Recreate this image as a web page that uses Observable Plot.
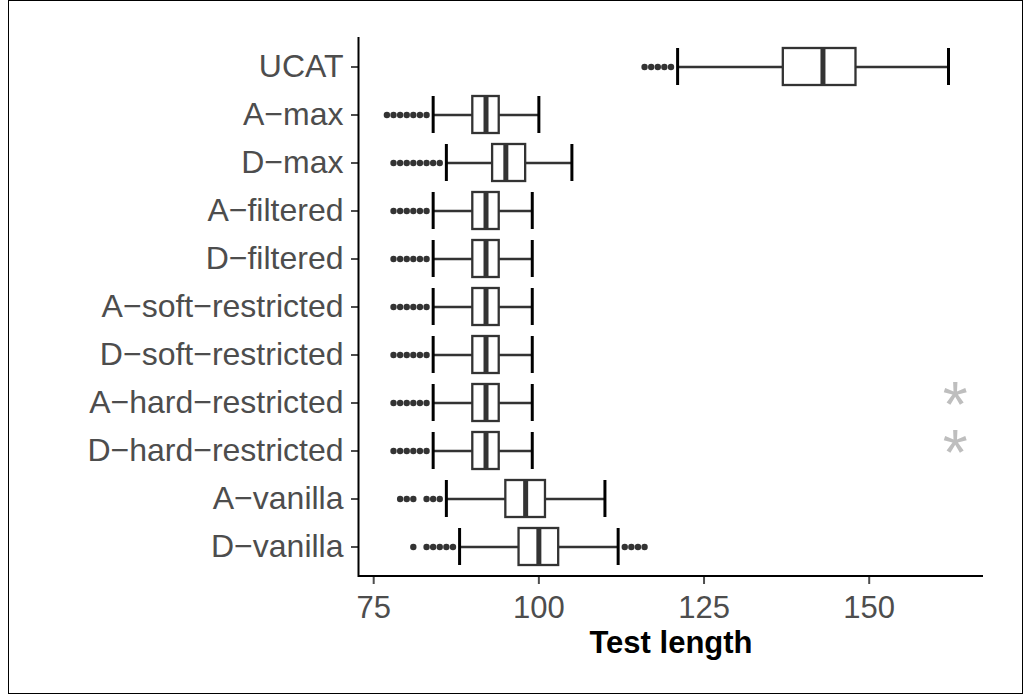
<!DOCTYPE html>
<html>
<head>
<meta charset="utf-8">
<script src="https://cdn.jsdelivr.net/npm/d3@7"></script>
<script src="https://cdn.jsdelivr.net/npm/@observablehq/plot@0.6"></script>
<style>
  html, body { margin: 0; padding: 0; background: #fff; }
  #wrap { position: relative; width: 1023px; height: 694px; }
  #border { position: absolute; left: 8px; top: 0px; width: 1013px; height: 692px; border: 1px solid #000; pointer-events: none; }
</style>
</head>
<body>
<div id="wrap"><div id="chart"></div><div id="border"></div></div>
<script>
// ---- data ----
const categories = ["UCAT", "A\u2212max", "D\u2212max", "A\u2212filtered", "D\u2212filtered",
  "A\u2212soft\u2212restricted", "D\u2212soft\u2212restricted", "A\u2212hard\u2212restricted",
  "D\u2212hard\u2212restricted", "A\u2212vanilla", "D\u2212vanilla"];
const whiskerLow  = [121, 84, 86, 84, 84, 84, 84, 84, 84, 86, 88];
const quartile1   = [137, 90, 93, 90, 90, 90, 90, 90, 90, 95, 97];
const medians     = [143, 92, 95, 92, 92, 92, 92, 92, 92, 98, 100];
const quartile3   = [148, 94, 98, 94, 94, 94, 94, 94, 94, 101, 103];
const whiskerHigh = [162, 100, 105, 99, 99, 99, 99, 99, 99, 110, 112];
const outliers = [
  [116, 117, 118, 119, 120],
  [77, 78, 79, 80, 81, 82, 83],
  [78, 79, 80, 81, 82, 83, 84, 85],
  [78, 79, 80, 81, 82, 83],
  [78, 79, 80, 81, 82, 83],
  [78, 79, 80, 81, 82, 83],
  [78, 79, 80, 81, 82, 83],
  [78, 79, 80, 81, 82, 83],
  [78, 79, 80, 81, 82, 83],
  [79, 80, 81, 83, 84, 85],
  [81, 83, 84, 85, 86, 87, 113, 114, 115, 116]
];
const markedCategories = ["A\u2212hard\u2212restricted", "D\u2212hard\u2212restricted"];
const markValue = 163;
const markSymbol = "*";
const xTicks = [75, 100, 125, 150];
const xLabel = "Test length";
const xDomain = [72.7, 167.3];

// ---- build tables ----
const boxes = categories.map((c, i) => ({
  cat: c, lo: whiskerLow[i], q1: quartile1[i], med: medians[i], q3: quartile3[i], hi: whiskerHigh[i]
}));
const outlierPts = categories.flatMap((c, i) => outliers[i].map(v => ({cat: c, v})));
const marks = markedCategories.map(c => ({cat: c, v: markValue, s: markSymbol}));

const W = 1023, H = 694, mL = 358, mR = 40, mT = 37, mB = 117;
const step = (H - mT - mB) / (categories.length + 0.2);
const font = "'Liberation Sans', Arial, Helvetica, sans-serif";

const chart = Plot.plot({
  width: W, height: H,
  marginLeft: mL, marginRight: mR, marginTop: mT, marginBottom: mB,
  style: {fontFamily: font, fontSize: "31px", background: "#fff"},
  x: {domain: xDomain, axis: null},
  y: {type: "band", domain: categories, paddingInner: 0.22, paddingOuter: 0.2, align: 0.5, axis: null},
  marks: [
    Plot.axisY({tickSize: 7, tickPadding: 8, strokeWidth: 2, color: "#4d4d4d", fontSize: 32, label: null}),
    Plot.axisX({ticks: xTicks, tickSize: 7, tickPadding: 11, strokeWidth: 2, color: "#4d4d4d", fontSize: 31, label: null}),
    Plot.ruleX([xDomain[0]], {stroke: "#000", strokeWidth: 2}),
    Plot.ruleY([categories[categories.length - 1]], {stroke: "#000", strokeWidth: 2, dy: 0.6 * step}),
    Plot.ruleY(boxes, {y: "cat", x1: "lo", x2: "hi", stroke: "#333", strokeWidth: 2.3}),
    Plot.tickX(boxes, {y: "cat", x: "lo", stroke: "#000", strokeWidth: 3}),
    Plot.tickX(boxes, {y: "cat", x: "hi", stroke: "#000", strokeWidth: 3}),
    Plot.dot(outlierPts, {y: "cat", x: "v", r: 3.2, fill: "#333", stroke: "none"}),
    Plot.barX(boxes, {y: "cat", x1: "q1", x2: "q3", fill: "#fff", stroke: "#333", strokeWidth: 2.3}),
    Plot.tickX(boxes, {y: "cat", x: "med", stroke: "#333", strokeWidth: 5}),
    Plot.text(marks, {y: "cat", x: "v", text: "s", fontSize: 64, fill: "#bebebe", dy: 4}),
    Plot.text([xLabel], {frameAnchor: "bottom", text: d => d, fontSize: 31, fontWeight: "bold", fill: "#000", lineAnchor: "bottom", dy: 75})
  ]
});
document.getElementById("chart").appendChild(chart);
</script>
</body>
</html>
